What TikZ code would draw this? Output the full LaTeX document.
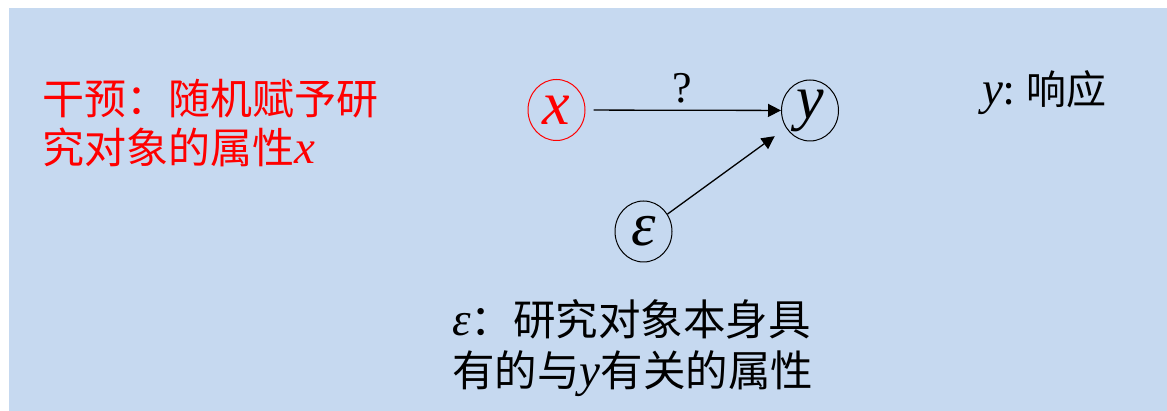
\documentclass[tikz,border=0pt]{standalone}
\usepackage{fontspec}
\newfontfamily\cjk{Noto Sans CJK SC}
\newfontfamily\qfont{Liberation Serif}
\newcommand{\mv}[1]{{\qfont\itshape #1}}
\newcommand{\mvt}[1]{{\qfont\itshape\fontsize{47}{47}\selectfont #1}}
\newcommand{\ep}{{\qfont\itshape ε}}
\usetikzlibrary{arrows.meta,shapes.geometric}
\definecolor{bg}{RGB}{198,217,240}
\begin{document}
\begin{tikzpicture}[x=1pt,y=-1pt,
  circ/.style={ellipse, draw, line width=1pt, minimum width=57pt, minimum height=61pt, inner sep=0pt, font=\fontsize{62}{64}\selectfont},
  arr/.style={-{Triangle[length=13pt,width=13pt]}, line width=1.3pt},
  lbl/.style={anchor=base west, inner sep=0pt, font=\cjk\fontsize{42.5}{42}\selectfont}]
\useasboundingbox (0,0) rectangle (1167,411);
\fill[bg] (9,8) rectangle (1167,411);
\node[circ, draw=red, text=red] (x) at (556.5,110) {\mv{x}};
\node[circ] (y) at (810,110.5) {\mv{y}};
\node[circ] (eps) at (643.5,231.5) {\ep};
\draw[arr, shorten <=8pt] (x) -- (y);
\draw[arr, shorten >=14pt] (eps) -- (y);
\node[font=\qfont\fontsize{44}{48}\selectfont, inner sep=0pt] (q) at (682,88) {?};
\node[lbl, text=red, font=\cjk\fontsize{42}{42}\selectfont] (t1) at (42,115) {干预：随机赋予研};
\node[lbl, text=red, font=\cjk\fontsize{42}{42}\selectfont] (t2) at (42,164) {究对象的属性\mvt{x}};
\node[lbl, font=\cjk\fontsize{40}{40}\selectfont] (yr) at (982,105) {\mvt{y}: 响应};
\node[lbl] (b1) at (452,336) {\mvt{\ep}：研究对象本身具};
\node[lbl] (b2) at (452,387) {有的与\mvt{y}有关的属性};
\end{tikzpicture}
\end{document}
